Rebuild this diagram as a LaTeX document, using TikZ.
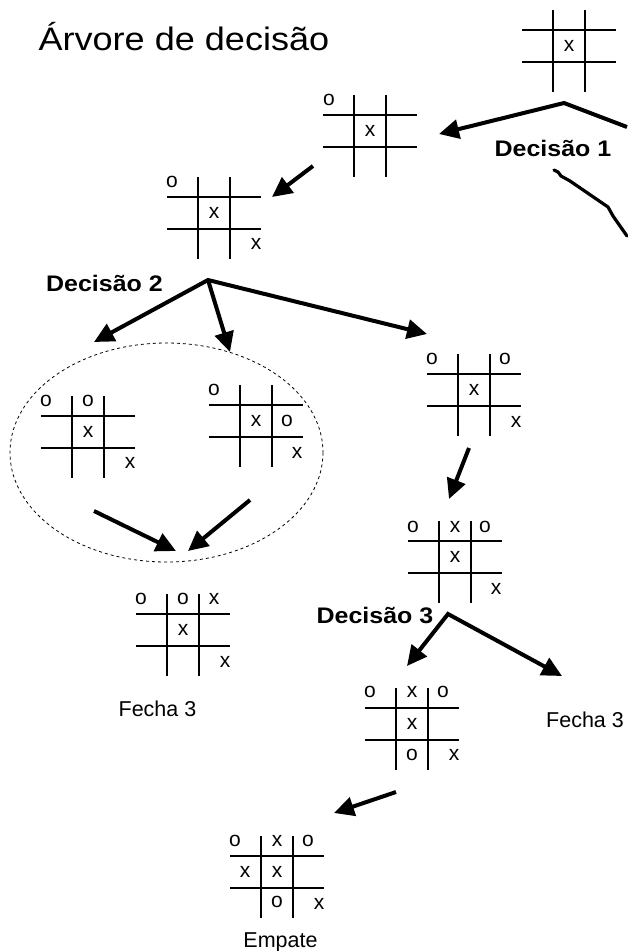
\documentclass[tikz,border=0pt]{standalone}
\usepackage{fontspec}
\setmainfont{Liberation Sans}
\usetikzlibrary{arrows.meta,calc,positioning}

\tikzstyle{boardline} = [line width=1.8pt]
\tikzstyle{move} = [line width=4pt, line join=miter, -{Triangle[length=20pt,width=19pt]}]
\tikzstyle{fork} = [line width=4pt, line join=miter, {Triangle[length=20pt,width=19pt]}-{Triangle[length=20pt,width=19pt]}]
\tikzstyle{sym} = [inner sep=0pt, font=\fontsize{21}{21}\selectfont]
\tikzstyle{decision} = [anchor=base, font=\bfseries\fontsize{22.5}{22.5}\selectfont]
\tikzstyle{result} = [anchor=base, font=\fontsize{21.5}{21.5}\selectfont]
\newcommand{\wide}[1]{\scalebox{1.11}[1]{#1}}
\newcommand{\tttboard}[2]{%
	\coordinate (#1) at (#2);
	\begin{scope}[shift={(#1)}]
		\draw[boardline] (-47,-16) -- (47,-16) (-47,16) -- (47,16)
			(-16,-36) -- (-16,46) (16,-36) -- (16,46);
	\end{scope}}
\newcommand{\putsym}[4]{\node[sym] (#1#2) at ($(#1)+(#3)$) {#4};}

\begin{document}
\begin{tikzpicture}[x=1pt,y=-1pt]
	\useasboundingbox (0,0) rectangle (627,951);
	\node[anchor=base west] (title) at (35,50) {\fontsize{32.5}{32.5}\selectfont\wide{Árvore de decisão}};

	% boards
	\tttboard{b0}{569,46}
	\putsym{b0}{mc}{0,0}{x}
	\tttboard{b1}{370,131}
	\putsym{b1}{tl}{-41,-31}{o} \putsym{b1}{mc}{0,0}{x}
	\tttboard{b2}{214,213}
	\putsym{b2}{tl}{-42,-31}{o} \putsym{b2}{mc}{0,0}{x} \putsym{b2}{br}{42,31}{x}
	\tttboard{b3}{88,432}
	\putsym{b3}{tl}{-42,-31}{o} \putsym{b3}{tc}{0,-31}{o}
	\putsym{b3}{mc}{0,0}{x} \putsym{b3}{br}{42,31}{x}
	\tttboard{b4}{256,421}
	\putsym{b4}{tl}{-42,-31}{o} \putsym{b4}{mc}{0,0}{x}
	\putsym{b4}{mr}{31,0}{o} \putsym{b4}{br}{41,32}{x}
	\tttboard{b5}{474,390}
	\putsym{b5}{tl}{-42,-31}{o} \putsym{b5}{tr}{31,-31}{o}
	\putsym{b5}{mc}{0,0}{x} \putsym{b5}{br}{42,32}{x}
	\tttboard{b6}{455,557}
	\putsym{b6}{tl}{-42,-30}{o} \putsym{b6}{tc}{0,-30}{x} \putsym{b6}{tr}{30,-30}{o}
	\putsym{b6}{mc}{0,0}{x} \putsym{b6}{br}{41,32}{x}
	\tttboard{b7}{183,630}
	\putsym{b7}{tl}{-42,-31}{o} \putsym{b7}{tc}{0,-31}{o} \putsym{b7}{tr}{31,-31}{x}
	\putsym{b7}{mc}{0,0}{x} \putsym{b7}{br}{42,32}{x}
	\tttboard{b8}{412,724}
	\putsym{b8}{tl}{-42,-32}{o} \putsym{b8}{tc}{0,-32}{x} \putsym{b8}{tr}{31,-32}{o}
	\putsym{b8}{mc}{0,0}{x} \putsym{b8}{bc}{0,31}{o} \putsym{b8}{br}{42,31}{x}
	\tttboard{b9}{277,872}
	\putsym{b9}{tl}{-42,-31}{o} \putsym{b9}{tc}{0,-31}{x} \putsym{b9}{tr}{31,-31}{o}
	\putsym{b9}{ml}{-32,0}{x} \putsym{b9}{mc}{0,0}{x}
	\putsym{b9}{bc}{0,30}{o} \putsym{b9}{br}{42,32}{x}

	% labels
	\node[decision] (dec1) at (553,156) {\wide{Decisão 1}};
	\node[decision] (dec2) at (104.5,291) {\wide{Decisão 2}};
	\node[decision] (dec3) at (375,623) {\wide{Decisão 3}};
	\node[result] (fecha1) at (157.5,716) {Fecha 3};
	\node[result] (fecha2) at (585,727) {Fecha 3};
	\node[result] (empate) at (280.5,947) {Empate};

	% connector ends
	\coordinate (apex1) at (564,103);
	\coordinate (to1) at (439,134);
	\coordinate (off1) at (627,127);
	\coordinate (from2) at (313,166);
	\coordinate (to2) at (272,197);
	\coordinate (apex2) at (208,280);
	\coordinate (to3) at (94,342);
	\coordinate (to4) at (230,352);
	\coordinate (to5) at (427,334);
	\coordinate (from6) at (94,511);
	\coordinate (from7) at (250,500);
	\coordinate (to6) at (176,551);
	\coordinate (to7) at (188,551);
	\coordinate (from8) at (469,448);
	\coordinate (to8) at (449,499);
	\coordinate (apex3) at (448,614);
	\coordinate (to9) at (407,666);
	\coordinate (to10) at (562,676);
	\coordinate (from11) at (396,792);
	\coordinate (to11) at (334,813);

	% arrows
	\draw[move] (off1) -- (apex1) -- (to1);
	\draw[move] (from2) -- (to2);
	\draw[fork] (to3) -- (apex2) -- (to5);
	\draw[move] (apex2) -- (to4);
	\draw[move] (from6) -- (to6);
	\draw[move] (from7) -- (to7);
	\draw[move] (from8) -- (to8);
	\draw[fork] (to9) -- (apex3) -- (to10);
	\draw[move] (from11) -- (to11);
	\draw[line width=3.2pt, line join=round, line cap=round]
		(554,170) -- (558,172) -- (561,176) -- (570,181) -- (608,207)
		-- (613,216) -- (627,236);

	% grouped boards
	\draw[dashed, line width=0.8pt] (166.5,452.5) ellipse [x radius=156.5, y radius=109.5];
\end{tikzpicture}
\end{document}
